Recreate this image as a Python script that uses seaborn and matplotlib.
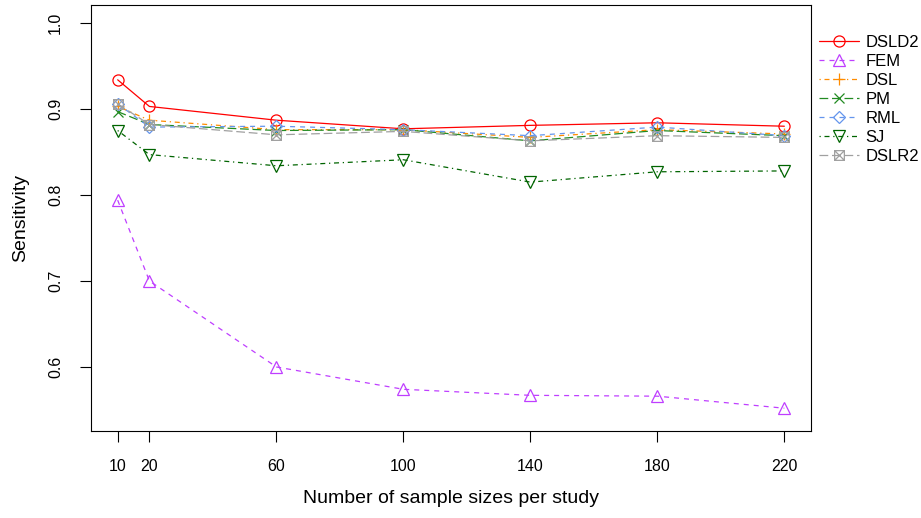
import matplotlib
matplotlib.use("Agg")
import matplotlib.pyplot as plt
from matplotlib.path import Path
import seaborn as sns
import pandas as pd

# Sample sizes per study and sensitivity of each method
sample_sizes = [10, 20, 60, 100, 140, 180, 220]
dsld2 = [0.934, 0.903, 0.887, 0.877, 0.881, 0.884, 0.880]
fem = [0.794, 0.700, 0.600, 0.574, 0.567, 0.566, 0.552]
dsl = [0.903, 0.887, 0.876, 0.876, 0.867, 0.876, 0.871]
pm = [0.897, 0.882, 0.875, 0.876, 0.863, 0.875, 0.869]
rml = [0.906, 0.879, 0.880, 0.876, 0.869, 0.879, 0.869]
sj = [0.875, 0.847, 0.834, 0.841, 0.815, 0.827, 0.828]
dslr2 = [0.906, 0.882, 0.870, 0.874, 0.863, 0.869, 0.867]

method_names = ["DSLD2", "FEM", "DSL", "PM", "RML", "SJ", "DSLR2"]
method_values = [dsld2, fem, dsl, pm, rml, sj, dslr2]

# Square with a cross inside (boxed x)
boxed_x = Path(
    [(-1, -1), (1, -1), (1, 1), (-1, 1), (-1, -1),
     (-1, -1), (1, 1), (-1, 1), (1, -1)],
    [Path.MOVETO, Path.LINETO, Path.LINETO, Path.LINETO, Path.CLOSEPOLY,
     Path.MOVETO, Path.LINETO, Path.MOVETO, Path.LINETO],
)

styles = {
    "DSLD2": dict(color="#FF0000", ls="-", marker="o", ms=8),
    "FEM": dict(color="#BF3EFF", ls=(0, (4, 4)), marker="^", ms=8.5),
    "DSL": dict(color="#FF8C00", ls=(0, (1, 3, 4, 3)), marker="+", ms=9),
    "PM": dict(color="#228B22", ls=(0, (7, 3)), marker="x", ms=6.5),
    "RML": dict(color="#6495ED", ls=(0, (4, 4)), marker="D", ms=6.5),
    "SJ": dict(color="#006400", ls=(0, (1, 3, 4, 3)), marker="v", ms=8.5),
    "DSLR2": dict(color="#A0A0A0", ls=(0, (7, 3)), marker=boxed_x, ms=7),
}

records = []
for name, vals in zip(method_names, method_values):
    for n, v in zip(sample_sizes, vals):
        records.append({"n": n, "sensitivity": v, "method": name})
df = pd.DataFrame(records)

sns.set_style("white")
plt.rcParams["font.family"] = ["Liberation Sans", "DejaVu Sans"]
plt.rcParams.update({
    "text.color": "black",
    "axes.labelcolor": "black",
    "xtick.color": "black",
    "ytick.color": "black",
})

fig = plt.figure(figsize=(9.21, 5.18), dpi=100)
ax = fig.add_axes([91 / 921, 1 - 431 / 518, (811 - 91) / 921, (431 - 5) / 518])

for name in method_names:
    st = styles[name]
    sub = df[df["method"] == name]
    sns.lineplot(
        data=sub, x="n", y="sensitivity", ax=ax,
        color=st["color"], linestyle=st["ls"], linewidth=0.9,
        marker=st["marker"], markersize=st["ms"],
        markerfacecolor="none", markeredgecolor=st["color"],
        markeredgewidth=0.9, label=name,
    )

ax.set_xlim(1.6, 228.4)
ax.set_ylim(0.5255, 1.021)
ax.set_xticks(sample_sizes)
ax.set_yticks([0.6, 0.7, 0.8, 0.9, 1.0])
ax.set_yticklabels(["0.6", "0.7", "0.8", "0.9", "1.0"], rotation=90, va="center")
ax.tick_params(axis="both", direction="out", length=8, width=0.8, color="black",
               labelsize=11.5, labelcolor="black", left=True, bottom=True)
ax.tick_params(axis="x", pad=12)
ax.tick_params(axis="y", pad=12)
for s in ax.spines.values():
    s.set_color("black")
    s.set_linewidth(0.8)

ax.set_xlabel("Number of sample sizes per study", fontsize=14, labelpad=12, color="black")
ax.set_ylabel("Sensitivity", fontsize=14, labelpad=14, color="black")

leg = ax.legend(
    loc="upper left", bbox_to_anchor=(819 / 921, 1 - 35 / 518),
    bbox_transform=fig.transFigure, frameon=False,
    fontsize=12, handlelength=2.4, handletextpad=0.4, labelspacing=0.24,
    borderaxespad=0, borderpad=0,
)
for t in leg.get_texts():
    t.set_color("black")

fig.savefig("out.png", dpi=100)
